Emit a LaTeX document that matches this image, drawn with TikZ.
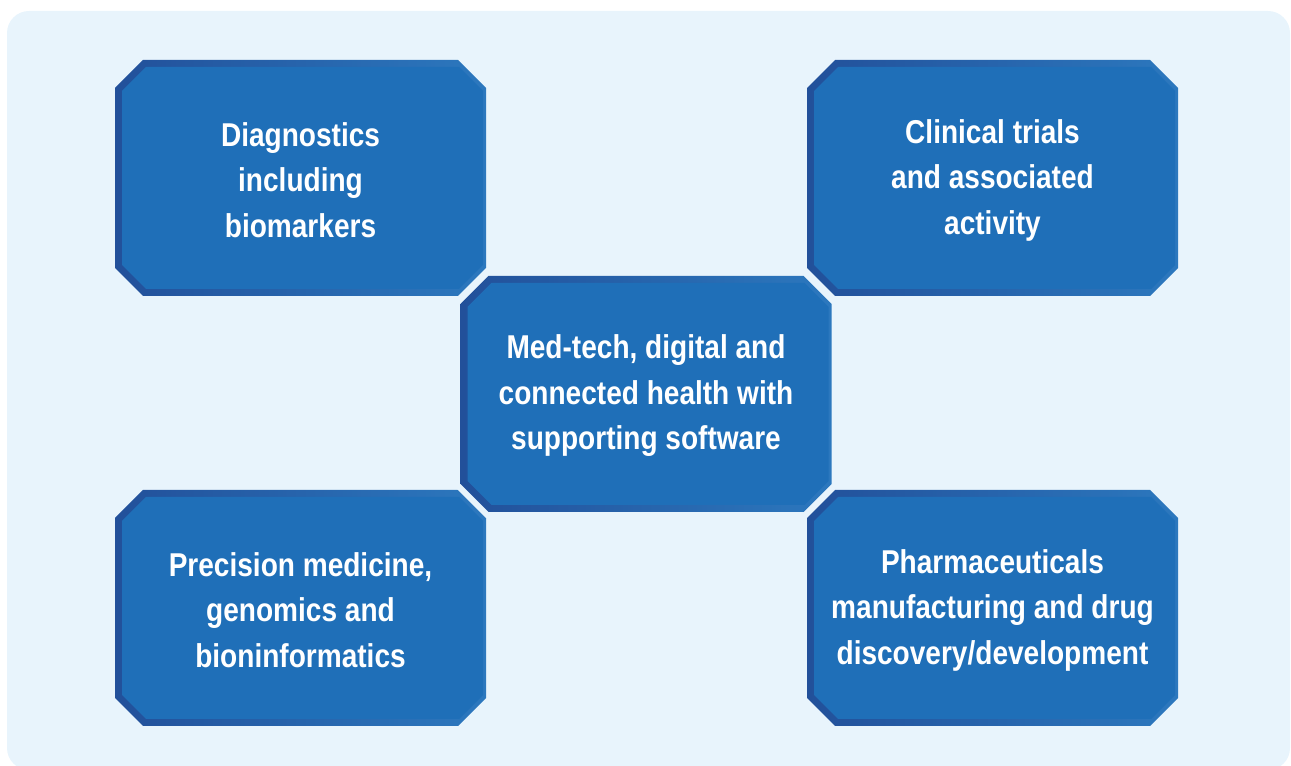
\documentclass[tikz,border=0pt]{standalone}
\usepackage{fontspec}
\setmainfont[FakeStretch=0.85]{Liberation Sans}
\definecolor{bg}{HTML}{E8F4FC}
\definecolor{boxfill}{HTML}{1F6FB8}
\definecolor{boxdark}{HTML}{22509A}
\definecolor{boxlight}{HTML}{2C78BE}
\newcommand\octpath[5]{(#1-#3+#5,#2+#4) -- (#1+#3-#5,#2+#4) -- (#1+#3,#2+#4-#5) -- (#1+#3,#2-#4+#5) -- (#1+#3-#5,#2-#4) -- (#1-#3+#5,#2-#4) -- (#1-#3,#2-#4+#5) -- (#1-#3,#2+#4-#5) -- cycle}
\newcommand\octbox[2]{%
  \shade[left color=boxdark, right color=boxlight] \octpath{#1}{#2}{185.5}{118}{28};
  \fill[boxfill] \octpath{#1+2}{#2}{180.5}{111}{24};
}
\tikzset{
  label text/.style={text=white, font=\bfseries\fontsize{33}{45.5}\selectfont, align=center, inner sep=0pt}
}
\begin{document}
\begin{tikzpicture}[x=1pt,y=1pt]
\useasboundingbox (0,0) rectangle (1291,766);
\fill[bg, rounded corners=22pt] (7,-4) rectangle (1290,755);
\octbox{300.5}{588}
\octbox{992.5}{588}
\octbox{300.5}{158}
\octbox{992.5}{158}
\draw[bg, line width=12pt, line join=miter] \octpath{646}{372}{185.5}{118}{28};
\octbox{646}{372}
\node[label text] (diag) at (300.5,586) {Diagnostics\\including\\biomarkers};
\node[label text] (clin) at (992.5,586) {Clinical trials\\and associated\\activity};
\node[label text] (med) at (646,370) {Med-tech, digital and\\connected health with\\supporting software};
\node[label text] (prec) at (300.5,156) {Precision medicine,\\genomics and\\bioninformatics};
\node[label text] (pharm) at (992.5,156) {Pharmaceuticals\\manufacturing and drug\\discovery/development};
\end{tikzpicture}
\end{document}
